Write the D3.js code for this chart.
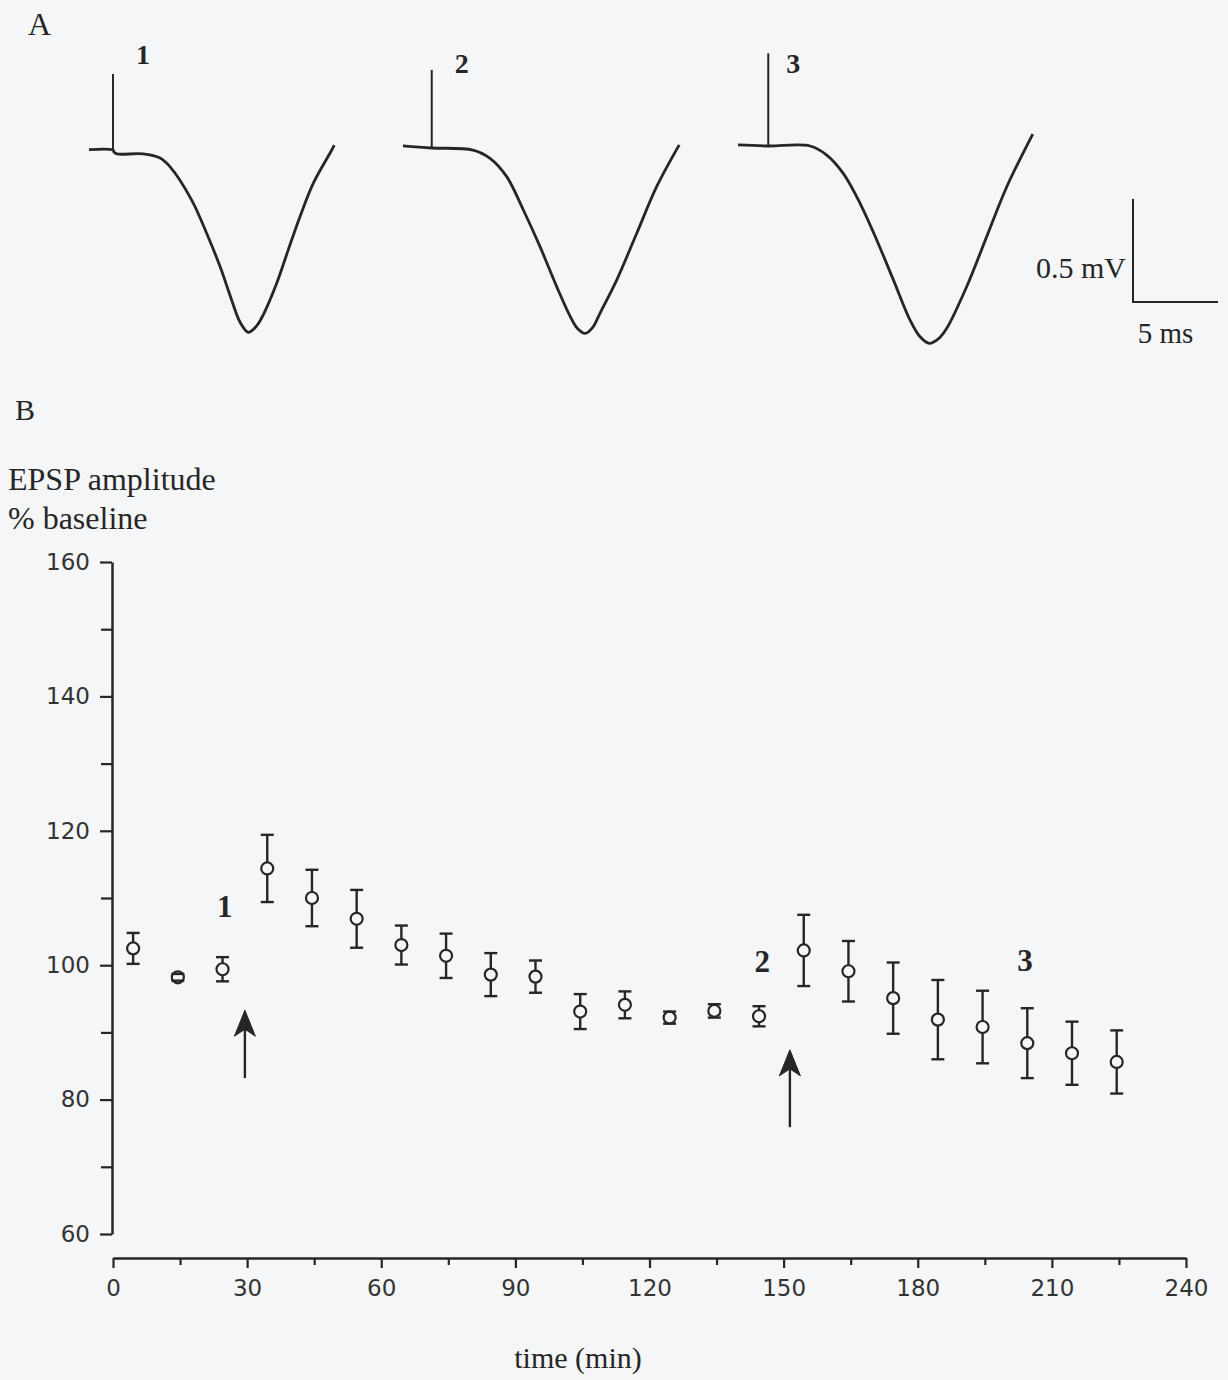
<!DOCTYPE html>
<html>
<head>
<meta charset="utf-8">
<script src="https://cdn.jsdelivr.net/npm/d3@7"></script>
<style>
  html, body { margin: 0; padding: 0; background: #f5f6f7; }
  svg { display: block; }
</style>
</head>
<body>
<svg id="chart" width="1228" height="1380"></svg>
<script>
// ---------------- DATA ----------------
// Panel A: field EPSP traces, [time (ms) from trace start, voltage (mV) re baseline]
const trace1 = [[0,0.002],[1.41,0],[1.47,-0.01],[1.65,-0.019],[3.18,-0.019],[4.18,-0.039],[4.76,-0.081],
  [6.04,-0.243],[6.92,-0.404],[7.71,-0.566],[8.39,-0.728],[8.88,-0.835],[9.37,-0.885],[9.85,-0.855],
  [10.25,-0.8],[11.04,-0.647],[11.72,-0.485],[12.41,-0.324],[13.19,-0.162],[14.28,0],[14.43,0.024]];
const trace2 = [[0,0.01],[1.69,0],[4.12,-0.01],[5.12,-0.05],[6.1,-0.139],[7.08,-0.301],[8.06,-0.479],
  [9.04,-0.673],[9.82,-0.815],[10.25,-0.875],[10.71,-0.9],[11.15,-0.872],[11.6,-0.8],[12.57,-0.641],
  [13.75,-0.414],[14.92,-0.188],[16.25,0.015]];
const trace3 = [[0,0.005],[1.78,0],[4.24,0],[5.22,-0.044],[6.19,-0.133],[7.18,-0.278],[8.16,-0.456],
  [9.14,-0.65],[10.12,-0.845],[10.7,-0.925],[11.25,-0.958],[11.8,-0.935],[12.28,-0.885],[13.45,-0.683],
  [14.63,-0.44],[15.81,-0.198],[17.34,0.058]];
const traceLabels = ["1", "2", "3"];
const stimTimes = [1.41, 1.69, 1.78];        // ms, stimulus artifact
const artifactHeights = [0.369, 0.379, 0.45]; // mV
const scaleBarMv = 0.5;
const scaleBarMs = 5;

// Panel B: EPSP amplitude (% baseline) over time
const times = [4.5,14.5,24.5,34.5,44.5,54.5,64.5,74.5,84.5,94.5,104.5,114.5,124.5,134.5,144.5,
  154.5,164.5,174.5,184.5,194.5,204.5,214.5,224.5];
const means = [102.5,98.2,99.4,114.4,110.0,106.9,103.0,101.4,98.6,98.3,93.1,94.1,92.2,93.2,92.4,
  102.2,99.1,95.1,91.9,90.8,88.4,86.9,85.6];
const sems = [2.3,0.5,1.8,5.0,4.2,4.3,2.9,3.3,3.2,2.4,2.6,2.0,0.9,1.0,1.5,
  5.3,4.5,5.3,5.9,5.4,5.2,4.7,4.7];
const xTicks = [0,30,60,90,120,150,180,210,240];
const xMinorTicks = [15,45,75,105,135,165,195,225];
const yTicks = [60,80,100,120,140,160];
const yMinorTicks = [70,90,110,130,150];
// stimulus arrows: [time (min), tip (%), tail (%)]
const arrowTimes = [29.5, 151.4];
const arrowTips = [93.3, 87.4];
const arrowTails = [83.2, 75.9];
// sample labels in panel B: time and baseline level (%)
const sampleLabelTimes = [25, 145.2, 204];
const sampleLabelValues = [107.2, 99.0, 99.1];

// ---------------- DRAW ----------------
const ink = "#262626";
const bg = "#f5f6f7";
const svg = d3.select("#chart");
const serif = "'Liberation Serif', 'Times New Roman', serif";
const sans = "'DejaVu Sans', Verdana, sans-serif";

// Panel letters
svg.append("text").attr("x", 28).attr("y", 35).attr("font-family", serif).attr("font-size", 32)
  .attr("fill", ink).text("A");
svg.append("text").attr("x", 15).attr("y", 420).attr("font-family", serif).attr("font-size", 30)
  .attr("fill", ink).text("B");

// ---- Panel A ----
const tScale = d3.scaleLinear().domain([0, 5]).range([0, 85]);     // ms -> px
const vScale = d3.scaleLinear().domain([0, 0.5]).range([0, -103]); // mV -> px
const traces = [trace1, trace2, trace3];
const origins = [[89, 150], [403, 148], [738, 146]];
const labelOffsets = [30, 30, 25];
const labelBaselines = [64, 73, 73];
const line = d3.line().x(d => tScale(d[0])).y(d => vScale(d[1])).curve(d3.curveCatmullRom.alpha(0.5));

traces.forEach((tr, i) => {
  const g = svg.append("g").attr("transform", `translate(${origins[i][0]},${origins[i][1]})`);
  g.append("path").datum(tr).attr("d", line).attr("fill", "none").attr("stroke", ink)
    .attr("stroke-width", 2.8).attr("stroke-linejoin", "round");
  g.append("line").attr("x1", tScale(stimTimes[i])).attr("x2", tScale(stimTimes[i]))
    .attr("y1", vScale(0) + 1).attr("y2", vScale(artifactHeights[i]))
    .attr("stroke", ink).attr("stroke-width", 2);
  svg.append("text").attr("x", origins[i][0] + tScale(stimTimes[i]) + labelOffsets[i])
    .attr("y", labelBaselines[i]).attr("text-anchor", "middle")
    .attr("font-family", serif).attr("font-weight", "bold").attr("font-size", 28)
    .attr("fill", ink).text(traceLabels[i]);
});

// Scale bar
const sb = svg.append("g").attr("transform", "translate(1133,302)");
sb.append("path")
  .attr("d", `M0,${vScale(scaleBarMv)} L0,0 L${tScale(scaleBarMs)},0`)
  .attr("fill", "none").attr("stroke", ink).attr("stroke-width", 2);
sb.append("text").attr("x", -7).attr("y", -24).attr("text-anchor", "end")
  .attr("font-family", serif).attr("font-size", 30).attr("fill", ink).text(scaleBarMv + " mV");
sb.append("text").attr("x", tScale(scaleBarMs) / 2 - 10).attr("y", 41).attr("text-anchor", "middle")
  .attr("font-family", serif).attr("font-size", 29).attr("fill", ink).text(scaleBarMs + " ms");

// ---- Panel B ----
const x = d3.scaleLinear().domain([0, 240]).range([113, 1186]);
const y = d3.scaleLinear().domain([60, 160]).range([1234, 562]);

svg.append("text").attr("x", 8).attr("y", 490).attr("font-family", serif).attr("font-size", 32)
  .attr("fill", ink).text("EPSP amplitude");
svg.append("text").attr("x", 8).attr("y", 529).attr("font-family", serif).attr("font-size", 32)
  .attr("fill", ink).text("% baseline");

// Y axis
svg.append("g").attr("transform", "translate(112,0)")
  .call(d3.axisLeft(y).tickValues(yTicks).tickSize(12).tickSizeOuter(0).tickPadding(10));
svg.append("g").attr("transform", "translate(112,0)")
  .call(d3.axisLeft(y).tickValues(yMinorTicks).tickSize(11).tickSizeOuter(0).tickFormat(""))
  .select(".domain").remove();
// X axis
svg.append("g").attr("transform", "translate(0,1258)")
  .call(d3.axisBottom(x).tickValues(xTicks).tickSize(10).tickSizeOuter(0).tickPadding(12));
svg.append("g").attr("transform", "translate(0,1258)")
  .call(d3.axisBottom(x).tickValues(xMinorTicks).tickSize(7).tickSizeOuter(0).tickFormat(""))
  .select(".domain").remove();

svg.selectAll(".domain").attr("stroke", ink).attr("stroke-width", 2.5);
svg.selectAll(".tick line").attr("stroke", ink).attr("stroke-width", 2.2);
svg.selectAll(".tick text").attr("font-family", sans).attr("font-size", 23).attr("fill", "#333");

svg.append("text").attr("x", 578).attr("y", 1368).attr("text-anchor", "middle")
  .attr("font-family", serif).attr("font-size", 30).attr("fill", ink).text("time (min)");

// Error bars + markers
const pts = times.map((t, i) => ({ t, m: means[i], s: sems[i] }));
const gp = svg.append("g");
gp.selectAll("line.eb").data(pts).join("line").attr("class", "eb")
  .attr("x1", d => x(d.t)).attr("x2", d => x(d.t))
  .attr("y1", d => y(d.m + d.s)).attr("y2", d => y(d.m - d.s))
  .attr("stroke", ink).attr("stroke-width", 2.4);
gp.selectAll("circle").data(pts).join("circle")
  .attr("cx", d => x(d.t)).attr("cy", d => y(d.m)).attr("r", 6)
  .attr("fill", bg).attr("stroke", ink).attr("stroke-width", 2.2);
[1, -1].forEach(sgn => {
  gp.selectAll("line.cap" + (sgn > 0 ? "u" : "d")).data(pts).join("line")
    .attr("class", "cap" + (sgn > 0 ? "u" : "d"))
    .attr("x1", d => x(d.t) - 6.5).attr("x2", d => x(d.t) + 6.5)
    .attr("y1", d => y(d.m + sgn * d.s)).attr("y2", d => y(d.m + sgn * d.s))
    .attr("stroke", ink).attr("stroke-width", 2.4);
});

// Arrows
arrowTimes.forEach((t, i) => {
  const ax = x(t), tip = y(arrowTips[i]), tail = y(arrowTails[i]);
  svg.append("line").attr("x1", ax).attr("x2", ax).attr("y1", tip + 16).attr("y2", tail)
    .attr("stroke", ink).attr("stroke-width", 2.4);
  svg.append("path")
    .attr("d", `M${ax},${tip} L${ax + 10.5},${tip + 26} L${ax},${tip + 19} L${ax - 10.5},${tip + 26} Z`)
    .attr("fill", ink).attr("stroke", ink).attr("stroke-width", 1).attr("stroke-linejoin", "round");
});

// Sample labels in panel B
sampleLabelTimes.forEach((t, i) => {
  svg.append("text").attr("x", x(t)).attr("y", y(sampleLabelValues[i]))
    .attr("text-anchor", "middle").attr("font-family", serif).attr("font-weight", "bold")
    .attr("font-size", 31).attr("fill", ink).text(traceLabels[i]);
});
</script>
</body>
</html>
